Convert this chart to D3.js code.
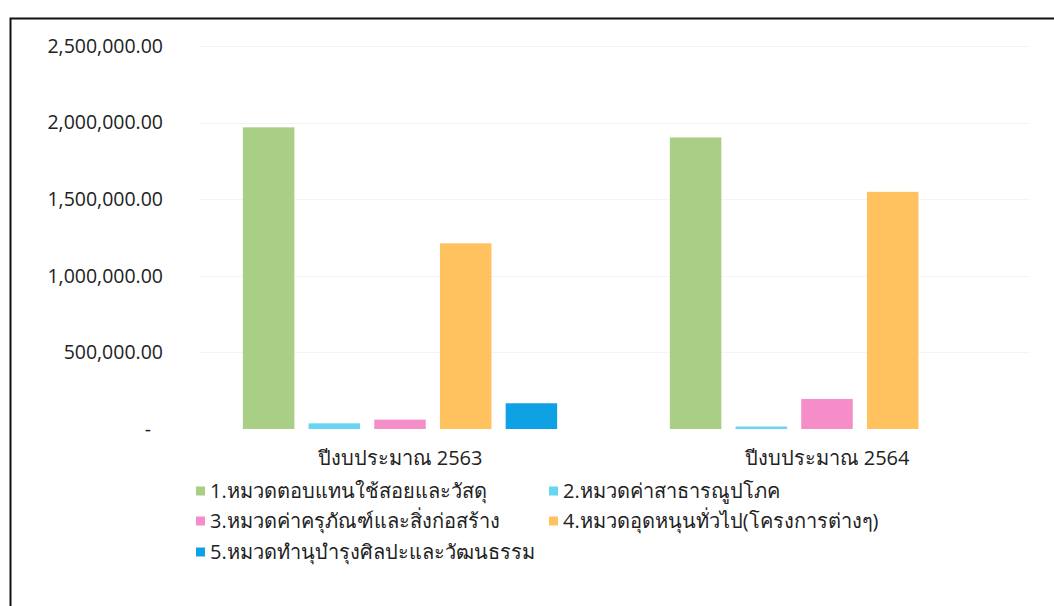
<!DOCTYPE html>
<html>
<head>
<meta charset="utf-8">
<script src="https://cdn.jsdelivr.net/npm/d3@7"></script>
<style>
  html, body { margin: 0; padding: 0; background: #fff; }
  svg { display: block; }
  text { font-family: "Open Sans", "Noto Sans", "DejaVu Sans", sans-serif; fill: #222; }
</style>
</head>
<body>
<svg id="chart" width="1054" height="606"></svg>
<script>
const years = ["ปีงบประมาณ 2563", "ปีงบประมาณ 2564"];
const seriesNames = [
  "1.หมวดตอบแทนใช้สอยและวัสดุ",
  "2.หมวดค่าสาธารณูปโภค",
  "3.หมวดค่าครุภัณฑ์และสิ่งก่อสร้าง",
  "4.หมวดอุดหนุนทั่วไป(โครงการต่างๆ)",
  "5.หมวดทำนุบำรุงศิลปะและวัฒนธรรม"
];
const seriesColors = ["#a9cf86", "#66d6f2", "#f58ec8", "#ffc25f", "#0ea2e4"];
// values per series: [2563, 2564]
const s1 = [1969000, 1903000];
const s2 = [37000, 16000];
const s3 = [61000, 196000];
const s4 = [1212000, 1548000];
const s5 = [168000, 0];
const seriesValues = [s1, s2, s3, s4, s5];
const yTicks = [0, 500000, 1000000, 1500000, 2000000, 2500000];

const svg = d3.select("#chart");

// frame
svg.append("path")
  .attr("d", "M10.5,606 L10.5,18.5 L1054,18.5")
  .attr("fill", "none").attr("stroke", "#111").attr("stroke-width", 2);

const y = d3.scaleLinear().domain([0, 2500000]).range([429, 46]);
const x0 = d3.scaleBand().domain(years).range([186.5, 1040.5]);
const groupW = 328.5;
const x1 = d3.scaleBand().domain(seriesNames)
  .range([-groupW / 2, groupW / 2]).paddingInner(0.216).paddingOuter(0.108);

// gridlines (very faint)
svg.append("g").selectAll("line").data(yTicks.slice(1)).join("line")
  .attr("x1", 200).attr("x2", 1030)
  .attr("y1", d => Math.round(y(d)) + 0.5).attr("y2", d => Math.round(y(d)) + 0.5)
  .attr("stroke", "#f4f4f4").attr("stroke-width", 1);

// y axis labels
const fmt = d3.format(",.2f");
const yAxis = d3.axisLeft(y).tickValues(yTicks).tickSize(0).tickPadding(0)
  .tickFormat(d => d === 0 ? "-" : fmt(d));
const gy = svg.append("g").attr("transform", "translate(163,0)").call(yAxis);
gy.select(".domain").remove();
gy.selectAll("text").attr("font-size", 19.5).attr("fill", "#222")
  .style("font-family", '"Open Sans", sans-serif')
  .attr("dx", d => d === 0 ? -12 : 0);

// bars
const groups = svg.append("g").selectAll("g").data(years).join("g")
  .attr("transform", d => `translate(${x0(d) + x0.bandwidth() / 2},0)`);
groups.selectAll("rect")
  .data((yr, i) => seriesNames.map((name, k) => ({name, k, v: seriesValues[k][i]})).filter(d => d.v > 0))
  .join("rect")
  .attr("x", d => x1(d.name))
  .attr("width", x1.bandwidth())
  .attr("y", d => y(d.v))
  .attr("height", d => y(0) - y(d.v))
  .attr("fill", d => seriesColors[d.k]);

// category labels
const xAxis = d3.axisBottom(x0).tickSize(0).tickPadding(0);
const gx = svg.append("g").attr("transform", "translate(0,458)").call(xAxis);
gx.select(".domain").remove();
gx.selectAll("text").attr("font-size", 20).attr("fill", "#222")
  .style("font-family", '"Open Sans", "Noto Sans", sans-serif').attr("dy", "0.35em");

// legend
const legendPos = [[196, 491], [549, 491], [196, 521], [549, 521], [196, 552]];
const lg = svg.append("g").selectAll("g").data(seriesNames).join("g")
  .attr("transform", (d, i) => `translate(${legendPos[i][0]},${legendPos[i][1]})`);
lg.append("rect").attr("x", 0).attr("y", -4.5).attr("width", 9).attr("height", 9)
  .attr("fill", (d, i) => seriesColors[i]);
lg.append("text").attr("x", 14).attr("y", 0).attr("dy", "0.35em")
  .attr("font-size", 20).text(d => d);
</script>
</body>
</html>
